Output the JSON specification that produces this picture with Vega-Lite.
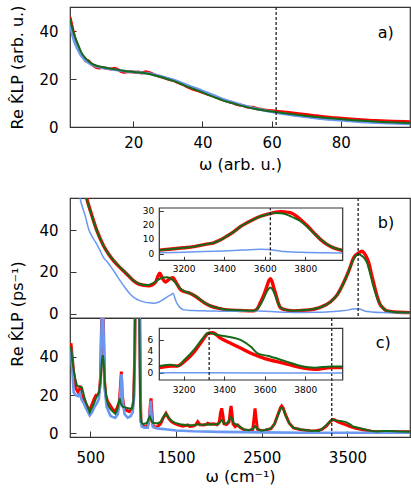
{
"$schema":"https://vega.github.io/schema/vega-lite/v6.json",
"padding":{"left":8,"top":4,"right":0,"bottom":0},
"background":"white",
"config":{"view":{"stroke":"#333","strokeWidth":1.2},"axis":{"labelFont":"DejaVu Sans","titleFont":"DejaVu Sans","labelColor":"#000","titleColor":"#000","tickColor":"#333","tickWidth":1,"domain":false,"grid":false,"titleFontWeight":"normal","labelFlush":false,"labelOverlap":false},"text":{"font":"DejaVu Sans"}},
"datasets":{
"aR":[{"x":1.7,"y":45.8},{"x":2.3,"y":42},{"x":3,"y":37.5},{"x":4,"y":33},{"x":4.9,"y":30.2},{"x":5.8,"y":28.5},{"x":6.5,"y":27.3},{"x":7,"y":27.6},{"x":7.6,"y":26.6},{"x":8.5,"y":25.6},{"x":9.3,"y":24.8},{"x":10,"y":24.6},{"x":11,"y":24.8},{"x":12,"y":24.5},{"x":13.6,"y":24.2},{"x":14.6,"y":24.5},{"x":15.3,"y":24.1},{"x":16.2,"y":23.4},{"x":17.2,"y":22.8},{"x":18.3,"y":23.0},{"x":19.5,"y":23.0},{"x":20.5,"y":22.8},{"x":21.5,"y":22.9},{"x":22.5,"y":22.5},{"x":23.6,"y":23.0},{"x":24.5,"y":22.7},{"x":26,"y":21.8},{"x":28,"y":20.9},{"x":30,"y":20.0},{"x":31.5,"y":19.4},{"x":33,"y":18.5},{"x":34.5,"y":17.6},{"x":36,"y":16.5},{"x":37.5,"y":15.6},{"x":39,"y":15.0},{"x":40.5,"y":14.2},{"x":42,"y":13.4},{"x":43.5,"y":12.7},{"x":45,"y":11.8},{"x":47,"y":10.8},{"x":48.5,"y":10.2},{"x":50,"y":9.4},{"x":51.5,"y":9.0},{"x":53,"y":8.3},{"x":54.5,"y":8.2},{"x":56,"y":7.6},{"x":58,"y":7.1},{"x":61.3,"y":6.6},{"x":65,"y":6.0},{"x":68.5,"y":5.4},{"x":72,"y":4.8},{"x":75,"y":4.3},{"x":78,"y":3.9},{"x":82,"y":3.4},{"x":86,"y":3.0},{"x":90,"y":2.7},{"x":95,"y":2.4},{"x":100,"y":2.2}],
"aB":[{"x":1.7,"y":43},{"x":2.3,"y":39},{"x":3,"y":35.5},{"x":4,"y":32.3},{"x":4.9,"y":29.9},{"x":5.8,"y":28.3},{"x":6.8,"y":27},{"x":8,"y":26},{"x":9.7,"y":25.1},{"x":11.5,"y":24.6},{"x":13.6,"y":24.1},{"x":16,"y":23.6},{"x":18,"y":23.2},{"x":20.3,"y":22.9},{"x":22,"y":22.7},{"x":24.2,"y":22.3},{"x":26,"y":21.8},{"x":28,"y":21.1},{"x":30,"y":20.3},{"x":32,"y":19.4},{"x":34,"y":18.3},{"x":35.8,"y":17.3},{"x":38,"y":16.1},{"x":40,"y":15.0},{"x":41.5,"y":14.1},{"x":44,"y":12.7},{"x":46,"y":11.5},{"x":49.2,"y":10.1},{"x":52,"y":8.9},{"x":55,"y":7.8},{"x":58,"y":6.9},{"x":61.3,"y":6.0},{"x":65,"y":5.2},{"x":68.5,"y":4.5},{"x":72,"y":3.9},{"x":75,"y":3.4},{"x":78.2,"y":3.0},{"x":82,"y":2.6},{"x":85,"y":2.3},{"x":87.8,"y":2.0},{"x":92,"y":1.7},{"x":96,"y":1.5},{"x":100,"y":1.3}],
"aG":[{"x":1.7,"y":45.1},{"x":2.3,"y":41.5},{"x":3,"y":38.2},{"x":4,"y":34.5},{"x":4.9,"y":31.3},{"x":5.8,"y":29.3},{"x":6.8,"y":27.8},{"x":8,"y":26.4},{"x":9.7,"y":25.4},{"x":11.5,"y":24.8},{"x":13.6,"y":24.3},{"x":16,"y":23.7},{"x":18,"y":23.2},{"x":20.3,"y":22.9},{"x":22,"y":22.7},{"x":24.2,"y":22.2},{"x":26,"y":21.6},{"x":28,"y":20.8},{"x":30,"y":19.9},{"x":32,"y":19.0},{"x":34,"y":17.8},{"x":35.8,"y":16.7},{"x":38,"y":15.5},{"x":40,"y":14.4},{"x":41.5,"y":13.5},{"x":44,"y":12.1},{"x":46,"y":11.0},{"x":49.2,"y":9.7},{"x":52,"y":8.6},{"x":55,"y":7.6},{"x":58,"y":6.9},{"x":61.3,"y":6.25},{"x":65,"y":5.5},{"x":68.5,"y":4.9},{"x":72,"y":4.3},{"x":75,"y":3.9},{"x":78.2,"y":3.5},{"x":82,"y":3.0},{"x":85,"y":2.7},{"x":87.8,"y":2.5},{"x":92,"y":2.1},{"x":96,"y":1.9},{"x":100,"y":1.7}],
"bR":[{"x":263,"y":90},{"x":350,"y":75},{"x":420,"y":62},{"x":461,"y":54.9},{"x":520,"y":46.9},{"x":578,"y":39.7},{"x":656,"y":32.5},{"x":715,"y":28.5},{"x":773,"y":25.3},{"x":830,"y":22.8},{"x":889,"y":20.5},{"x":950,"y":18},{"x":1006,"y":15.7},{"x":1060,"y":14.3},{"x":1123,"y":13.6},{"x":1180,"y":13.4},{"x":1220,"y":13.8},{"x":1260,"y":15},{"x":1290,"y":18},{"x":1310,"y":19.4},{"x":1335,"y":17.5},{"x":1375,"y":15.2},{"x":1420,"y":16.5},{"x":1465,"y":17.3},{"x":1500,"y":15},{"x":1550,"y":11.7},{"x":1600,"y":10.5},{"x":1650,"y":10},{"x":1686,"y":9.3},{"x":1730,"y":8.2},{"x":1784,"y":6.6},{"x":1840,"y":5},{"x":1900,"y":3.7},{"x":2000,"y":2.5},{"x":2095,"y":1.8},{"x":2250,"y":1.5},{"x":2406,"y":1.3},{"x":2450,"y":2.5},{"x":2484,"y":5.3},{"x":2530,"y":9.5},{"x":2562,"y":13.3},{"x":2585,"y":16.0},{"x":2600,"y":16.8},{"x":2620,"y":15.5},{"x":2640,"y":12.5},{"x":2659,"y":10},{"x":2690,"y":5.5},{"x":2717,"y":2.9},{"x":2780,"y":1.8},{"x":2873,"y":1.3},{"x":3000,"y":1.6},{"x":3107,"y":2.1},{"x":3200,"y":3.3},{"x":3300,"y":5.6},{"x":3380,"y":9},{"x":3457,"y":14.9},{"x":3520,"y":21},{"x":3574,"y":26.9},{"x":3620,"y":28.8},{"x":3650,"y":29.6},{"x":3670,"y":30},{"x":3700,"y":28.8},{"x":3730,"y":26.5},{"x":3748,"y":24.5},{"x":3780,"y":19},{"x":3810,"y":14},{"x":3845,"y":8.5},{"x":3880,"y":4.5},{"x":3920,"y":2.5},{"x":3962,"y":1.3},{"x":4050,"y":0.8},{"x":4230,"y":0.5}],
"bB":[{"x":263,"y":90},{"x":340,"y":65},{"x":383,"y":54.9},{"x":441,"y":46.9},{"x":481,"y":40.5},{"x":540,"y":35.7},{"x":580,"y":33},{"x":617,"y":30},{"x":660,"y":26.5},{"x":700,"y":24.8},{"x":733,"y":22.9},{"x":790,"y":19.5},{"x":850,"y":15.7},{"x":910,"y":12.2},{"x":967,"y":9.3},{"x":1020,"y":7.4},{"x":1083,"y":6.1},{"x":1150,"y":5.4},{"x":1200,"y":5.2},{"x":1240,"y":5},{"x":1300,"y":5.6},{"x":1356,"y":6.9},{"x":1410,"y":8.4},{"x":1440,"y":9},{"x":1465,"y":9.8},{"x":1490,"y":7},{"x":1510,"y":5},{"x":1531,"y":3.7},{"x":1560,"y":2.5},{"x":1590,"y":1.8},{"x":1700,"y":1.5},{"x":1850,"y":1.3},{"x":1980,"y":1.2},{"x":2200,"y":1.1},{"x":2400,"y":1.2},{"x":2484,"y":1.3},{"x":2550,"y":1.1},{"x":2650,"y":0.9},{"x":2800,"y":0.6},{"x":2950,"y":0.5},{"x":3100,"y":0.6},{"x":3250,"y":0.8},{"x":3417,"y":1.3},{"x":3520,"y":1.8},{"x":3592,"y":2.4},{"x":3640,"y":2.2},{"x":3700,"y":1.3},{"x":3780,"y":0.8},{"x":3900,"y":0.5},{"x":4230,"y":0.3}],
"bG":[{"x":263,"y":88},{"x":350,"y":74},{"x":420,"y":61},{"x":461,"y":54.5},{"x":520,"y":46.6},{"x":578,"y":39.5},{"x":656,"y":32.4},{"x":715,"y":28.5},{"x":773,"y":25.4},{"x":830,"y":22.9},{"x":889,"y":20.6},{"x":950,"y":18},{"x":1006,"y":15.8},{"x":1060,"y":14.5},{"x":1123,"y":13.8},{"x":1180,"y":13.8},{"x":1240,"y":14.8},{"x":1300,"y":16.5},{"x":1350,"y":17.3},{"x":1400,"y":17.5},{"x":1450,"y":16.5},{"x":1500,"y":14.5},{"x":1550,"y":12},{"x":1600,"y":10.7},{"x":1650,"y":10},{"x":1700,"y":9},{"x":1750,"y":7.8},{"x":1800,"y":6.2},{"x":1850,"y":4.8},{"x":1900,"y":3.8},{"x":2000,"y":2.6},{"x":2095,"y":1.9},{"x":2250,"y":1.6},{"x":2406,"y":1.4},{"x":2450,"y":2.3},{"x":2490,"y":4.6},{"x":2530,"y":8},{"x":2565,"y":11},{"x":2600,"y":12.5},{"x":2630,"y":11.3},{"x":2660,"y":8.5},{"x":2690,"y":5},{"x":2720,"y":2.9},{"x":2780,"y":1.8},{"x":2873,"y":1.4},{"x":3000,"y":1.7},{"x":3107,"y":2.2},{"x":3200,"y":3.3},{"x":3300,"y":5.6},{"x":3380,"y":9},{"x":3457,"y":14.9},{"x":3520,"y":21},{"x":3574,"y":26.3},{"x":3610,"y":28.2},{"x":3631,"y":28.5},{"x":3660,"y":28},{"x":3700,"y":26.5},{"x":3728,"y":24.5},{"x":3760,"y":20},{"x":3800,"y":13.5},{"x":3845,"y":7.8},{"x":3880,"y":4.5},{"x":3920,"y":2.5},{"x":3962,"y":1.3},{"x":4050,"y":0.8},{"x":4230,"y":0.5}],
"ibR":[{"x":3080,"y":2.4},{"x":3140,"y":3.2},{"x":3200,"y":4.1},{"x":3250,"y":4.9},{"x":3282,"y":5.8},{"x":3320,"y":6.8},{"x":3348,"y":7.6},{"x":3380,"y":9.5},{"x":3414,"y":12.3},{"x":3450,"y":15.6},{"x":3480,"y":18.9},{"x":3515,"y":21.8},{"x":3546,"y":24.1},{"x":3580,"y":26.2},{"x":3611,"y":27.6},{"x":3645,"y":28.8},{"x":3677,"y":29.4},{"x":3700,"y":29.2},{"x":3726,"y":28.7},{"x":3750,"y":27},{"x":3775,"y":24.1},{"x":3810,"y":19.5},{"x":3842,"y":14.7},{"x":3875,"y":10},{"x":3907,"y":6.5},{"x":3940,"y":4},{"x":3985,"y":2.2}],
"ibB":[{"x":3080,"y":0.6},{"x":3200,"y":0.9},{"x":3300,"y":1.4},{"x":3400,"y":1.9},{"x":3500,"y":2.5},{"x":3578,"y":3.0},{"x":3620,"y":2.8},{"x":3660,"y":2.1},{"x":3700,"y":1.4},{"x":3780,"y":0.9},{"x":3880,"y":0.6},{"x":3985,"y":0.5}],
"ibG":[{"x":3080,"y":2.4},{"x":3140,"y":3.2},{"x":3200,"y":4.1},{"x":3250,"y":4.9},{"x":3282,"y":5.8},{"x":3320,"y":6.8},{"x":3348,"y":7.6},{"x":3380,"y":9.5},{"x":3414,"y":12.3},{"x":3450,"y":15.6},{"x":3480,"y":18.9},{"x":3515,"y":21.8},{"x":3546,"y":24},{"x":3580,"y":26.2},{"x":3611,"y":27.5},{"x":3650,"y":28.5},{"x":3680,"y":28.3},{"x":3700,"y":27.8},{"x":3728,"y":26.2},{"x":3750,"y":24.8},{"x":3775,"y":22.9},{"x":3810,"y":18.8},{"x":3842,"y":14.3},{"x":3875,"y":10.0},{"x":3907,"y":6.6},{"x":3940,"y":4.1},{"x":3985,"y":2.3}],
"cR":[{"x":263,"y":45},{"x":275,"y":47.1},{"x":285,"y":42},{"x":294,"y":37.5},{"x":310,"y":30},{"x":333,"y":23.6},{"x":350,"y":22},{"x":365,"y":21},{"x":383,"y":25},{"x":395,"y":20},{"x":411,"y":18.5},{"x":440,"y":16},{"x":465,"y":14},{"x":488,"y":12.2},{"x":510,"y":14},{"x":540,"y":17.5},{"x":566,"y":20},{"x":590,"y":20},{"x":606,"y":22},{"x":620,"y":30},{"x":632,"y":60},{"x":642,"y":90},{"x":652,"y":60},{"x":665,"y":28},{"x":680,"y":20},{"x":703,"y":16.6},{"x":740,"y":14},{"x":780,"y":11.4},{"x":810,"y":13},{"x":838,"y":16.6},{"x":852,"y":25},{"x":862,"y":32.3},{"x":872,"y":20},{"x":896,"y":13},{"x":925,"y":12},{"x":955,"y":11.4},{"x":975,"y":12.5},{"x":990,"y":13},{"x":1005,"y":17},{"x":1018,"y":40},{"x":1030,"y":90},{"x":1045,"y":120},{"x":1060,"y":120},{"x":1075,"y":70},{"x":1085,"y":20},{"x":1091,"y":6.1},{"x":1110,"y":4},{"x":1130,"y":3.5},{"x":1160,"y":3.5},{"x":1185,"y":6},{"x":1200,"y":15},{"x":1208,"y":18.3},{"x":1218,"y":12},{"x":1228,"y":5},{"x":1240,"y":3.5},{"x":1280,"y":3.4},{"x":1320,"y":5},{"x":1350,"y":8},{"x":1383,"y":10.5},{"x":1420,"y":7.5},{"x":1450,"y":6},{"x":1480,"y":5.2},{"x":1530,"y":4.3},{"x":1580,"y":3.8},{"x":1636,"y":4.4},{"x":1660,"y":3.6},{"x":1700,"y":3.8},{"x":1730,"y":4.5},{"x":1753,"y":6.1},{"x":1780,"y":4.5},{"x":1820,"y":4.4},{"x":1850,"y":4.6},{"x":1870,"y":5.3},{"x":1900,"y":4.8},{"x":1940,"y":5},{"x":1980,"y":4.5},{"x":2005,"y":6},{"x":2020,"y":11},{"x":2033,"y":13.1},{"x":2045,"y":10},{"x":2060,"y":5},{"x":2090,"y":4.6},{"x":2120,"y":6},{"x":2133,"y":12},{"x":2142,"y":14.3},{"x":2152,"y":11},{"x":2165,"y":5},{"x":2190,"y":3.5},{"x":2220,"y":4.4},{"x":2250,"y":3},{"x":2297,"y":1.8},{"x":2350,"y":1.5},{"x":2395,"y":2},{"x":2410,"y":8},{"x":2422,"y":13.1},{"x":2434,"y":8},{"x":2450,"y":2.2},{"x":2492,"y":1.3},{"x":2540,"y":1.7},{"x":2608,"y":2.5},{"x":2650,"y":5},{"x":2690,"y":10},{"x":2720,"y":13.5},{"x":2733,"y":14.3},{"x":2750,"y":13.3},{"x":2780,"y":9.5},{"x":2820,"y":5.5},{"x":2870,"y":2.8},{"x":2958,"y":1.9},{"x":3050,"y":1.4},{"x":3080,"y":1.2},{"x":3138,"y":1.4},{"x":3203,"y":2.1},{"x":3253,"y":3.8},{"x":3294,"y":5.9},{"x":3322,"y":7.1},{"x":3343,"y":7.2},{"x":3384,"y":6.2},{"x":3434,"y":5.3},{"x":3483,"y":4.4},{"x":3532,"y":3.6},{"x":3598,"y":2.7},{"x":3697,"y":1.8},{"x":3779,"y":1.1},{"x":3845,"y":0.8},{"x":3927,"y":1.0},{"x":3985,"y":1.0},{"x":4100,"y":0.9},{"x":4230,"y":0.9}],
"cB":[{"x":263,"y":42},{"x":275,"y":43},{"x":290,"y":33},{"x":306,"y":21.5},{"x":330,"y":20},{"x":360,"y":19.5},{"x":380,"y":21},{"x":395,"y":18},{"x":420,"y":16},{"x":450,"y":13},{"x":493,"y":9.3},{"x":520,"y":11},{"x":550,"y":14},{"x":575,"y":15.6},{"x":600,"y":18},{"x":620,"y":28},{"x":632,"y":60},{"x":642,"y":90},{"x":652,"y":60},{"x":665,"y":25},{"x":690,"y":14},{"x":733,"y":9.3},{"x":760,"y":8.5},{"x":792,"y":8.2},{"x":820,"y":10},{"x":840,"y":15},{"x":855,"y":25},{"x":865,"y":31},{"x":875,"y":18},{"x":900,"y":10},{"x":936,"y":8.2},{"x":970,"y":9},{"x":995,"y":11},{"x":1010,"y":20},{"x":1022,"y":60},{"x":1035,"y":110},{"x":1060,"y":120},{"x":1075,"y":60},{"x":1085,"y":10},{"x":1100,"y":3.5},{"x":1130,"y":3},{"x":1170,"y":3},{"x":1190,"y":8},{"x":1205,"y":17},{"x":1215,"y":10},{"x":1228,"y":3.5},{"x":1260,"y":2.8},{"x":1300,"y":2.5},{"x":1400,"y":2},{"x":1500,"y":1.5},{"x":1700,"y":1.1},{"x":2000,"y":0.8},{"x":2500,"y":0.5},{"x":3000,"y":0.35},{"x":3500,"y":0.3},{"x":4230,"y":0.3}],
"cG":[{"x":263,"y":44},{"x":275,"y":45},{"x":290,"y":38},{"x":310,"y":32},{"x":330,"y":27.5},{"x":345,"y":25},{"x":370,"y":24.5},{"x":403,"y":24},{"x":430,"y":19},{"x":460,"y":15},{"x":493,"y":11},{"x":520,"y":13.5},{"x":550,"y":16.5},{"x":570,"y":18.8},{"x":600,"y":21},{"x":620,"y":28},{"x":635,"y":38},{"x":645,"y":41},{"x":655,"y":38},{"x":670,"y":26},{"x":690,"y":18},{"x":710,"y":14.5},{"x":733,"y":12.8},{"x":760,"y":11.5},{"x":792,"y":10.2},{"x":815,"y":12.5},{"x":830,"y":15.5},{"x":843,"y":18.3},{"x":858,"y":15.5},{"x":875,"y":14},{"x":908,"y":13.6},{"x":950,"y":13},{"x":990,"y":13},{"x":1005,"y":18},{"x":1018,"y":45},{"x":1030,"y":90},{"x":1045,"y":120},{"x":1060,"y":110},{"x":1072,"y":60},{"x":1082,"y":15},{"x":1095,"y":6},{"x":1110,"y":5},{"x":1123,"y":4.9},{"x":1160,"y":5.4},{"x":1180,"y":7.5},{"x":1195,"y":8.7},{"x":1210,"y":7},{"x":1230,"y":5.5},{"x":1247,"y":5.4},{"x":1280,"y":5.2},{"x":1320,"y":6},{"x":1350,"y":8.5},{"x":1380,"y":10.5},{"x":1410,"y":8.5},{"x":1450,"y":6.5},{"x":1490,"y":5.5},{"x":1550,"y":4.8},{"x":1636,"y":4.2},{"x":1700,"y":4.2},{"x":1753,"y":4.8},{"x":1800,"y":4.5},{"x":1870,"y":4.8},{"x":1950,"y":4.7},{"x":2000,"y":5},{"x":2033,"y":7},{"x":2060,"y":5},{"x":2100,"y":5.5},{"x":2142,"y":8.7},{"x":2170,"y":5.5},{"x":2220,"y":4.2},{"x":2260,"y":3},{"x":2300,"y":2},{"x":2350,"y":1.6},{"x":2400,"y":2.5},{"x":2422,"y":3.9},{"x":2445,"y":2.5},{"x":2492,"y":1.4},{"x":2540,"y":1.8},{"x":2608,"y":2.6},{"x":2650,"y":5},{"x":2690,"y":9.5},{"x":2720,"y":13},{"x":2733,"y":13.5},{"x":2750,"y":12.8},{"x":2780,"y":9.2},{"x":2820,"y":5.3},{"x":2870,"y":2.9},{"x":2958,"y":2.0},{"x":3050,"y":1.5},{"x":3080,"y":1.3},{"x":3138,"y":1.5},{"x":3171,"y":1.3},{"x":3203,"y":2.4},{"x":3253,"y":4.3},{"x":3294,"y":6.2},{"x":3322,"y":7.2},{"x":3368,"y":6.8},{"x":3434,"y":6.4},{"x":3483,"y":5.9},{"x":3532,"y":4.7},{"x":3565,"y":3.6},{"x":3614,"y":3.1},{"x":3697,"y":2.2},{"x":3779,"y":1.3},{"x":3845,"y":1.0},{"x":3927,"y":1.2},{"x":3985,"y":1.2},{"x":4100,"y":1.0},{"x":4230,"y":0.9}],
"icR":[{"x":3080,"y":1.0},{"x":3138,"y":1.3},{"x":3171,"y":1.3},{"x":3203,"y":2.06},{"x":3253,"y":3.84},{"x":3294,"y":5.9},{"x":3322,"y":7.1},{"x":3343,"y":7.2},{"x":3384,"y":6.2},{"x":3434,"y":5.3},{"x":3483,"y":4.44},{"x":3532,"y":3.55},{"x":3598,"y":2.66},{"x":3697,"y":1.77},{"x":3779,"y":0.99},{"x":3845,"y":0.7},{"x":3927,"y":1.0},{"x":3985,"y":1.0}],
"icB":[{"x":3080,"y":0.1},{"x":3300,"y":0.08},{"x":3600,"y":0.05},{"x":3985,"y":0.05}],
"icG":[{"x":3080,"y":1.3},{"x":3138,"y":1.5},{"x":3171,"y":1.3},{"x":3203,"y":2.36},{"x":3253,"y":4.26},{"x":3294,"y":6.2},{"x":3322,"y":7.2},{"x":3368,"y":6.8},{"x":3434,"y":6.4},{"x":3483,"y":5.9},{"x":3532,"y":4.7},{"x":3565,"y":3.55},{"x":3614,"y":3.1},{"x":3697,"y":2.2},{"x":3779,"y":1.3},{"x":3845,"y":1.0},{"x":3927,"y":1.2},{"x":3985,"y":1.2}],
"ibT":[{"v":0},{"v":10},{"v":20},{"v":30}],
"icT":[{"v":0},{"v":2},{"v":4},{"v":6}]
},
"spacing":71,
"bounds":"flush",
"vconcat":[
{"width":340,"height":120,
 "layer":[
  {"data":{"name":"aR"},"mark":{"type":"line","color":"#ff0000","strokeWidth":3,"interpolate":"monotone","clip":true},
   "encoding":{"x":{"field":"x","type":"quantitative","scale":{"domain":[1.7,100],"nice":false,"zero":false},"axis":{"values":[20,40,60,80],"format":"d","tickSize":-6,"labelPadding":14,"labelFontSize":15,"title":"ω (arb. u.)","titleFontSize":16,"titleY":29}},
    "y":{"field":"y","type":"quantitative","scale":{"domain":[0,50],"nice":false,"zero":false},"axis":{"values":[0,20,40],"format":"d","tickSize":-6,"labelPadding":18,"labelFontSize":15,"title":"Re K̂LP (arb. u.)","titleFontSize":16,"titleX":-48,"titleBaseline":"alphabetic"}}}},
  {"data":{"name":"aB"},"mark":{"type":"line","color":"#6a98f0","strokeWidth":2.8,"interpolate":"monotone","clip":true},
   "encoding":{"x":{"field":"x","type":"quantitative"},"y":{"field":"y","type":"quantitative"}}},
  {"data":{"name":"aG"},"mark":{"type":"line","color":"#17691a","strokeWidth":2,"interpolate":"monotone","clip":true},
   "encoding":{"x":{"field":"x","type":"quantitative"},"y":{"field":"y","type":"quantitative"}}},
  {"data":{"values":[{}]},"mark":{"type":"rule","strokeDash":[3,2],"color":"#222","strokeWidth":1.3},"encoding":{"x":{"datum":61.3}}},
  {"data":{"values":[{}]},"mark":{"type":"text","text":"a)","fontSize":16,"color":"#000"},"encoding":{"x":{"datum":93},"y":{"datum":39}}}
 ]},
{"spacing":0,"bounds":"flush",
 "vconcat":[
  {"width":340,"height":120,
   "resolve":{"scale":{"x":"independent","y":"independent"},"axis":{"x":"independent","y":"independent"}},
   "layer":[
    {"layer":[
      {"data":{"name":"bR"},"mark":{"type":"line","color":"#ff0000","strokeWidth":3.4,"interpolate":"monotone","clip":true},
       "encoding":{"x":{"field":"x","type":"quantitative","scale":{"domain":[263,4230],"nice":false,"zero":false},"axis":null},
        "y":{"field":"y","type":"quantitative","scale":{"domain":[-2.1,55.5],"nice":false,"zero":false},"axis":{"orient":"left","values":[0,20,40],"format":"d","tickSize":-6,"labelPadding":18,"labelFontSize":15,"title":null}}}},
      {"data":{"name":"bB"},"mark":{"type":"line","color":"#6a98f0","strokeWidth":1.5,"interpolate":"monotone","clip":true},
       "encoding":{"x":{"field":"x","type":"quantitative","axis":null},"y":{"field":"y","type":"quantitative"}}},
      {"data":{"name":"bG"},"mark":{"type":"line","color":"#17691a","strokeWidth":2,"interpolate":"monotone","clip":true},
       "encoding":{"x":{"field":"x","type":"quantitative","axis":null},"y":{"field":"y","type":"quantitative"}}},
      {"data":{"values":[{}]},"mark":{"type":"rule","strokeDash":[3,2],"color":"#222","strokeWidth":1.3},"encoding":{"x":{"datum":3625,"axis":null}}},
      {"data":{"values":[{}]},"mark":{"type":"text","text":"b)","fontSize":16,"color":"#000"},"encoding":{"x":{"datum":3950,"axis":null},"y":{"datum":43.3}}}
    ]},
    {"layer":[
      {"data":{"name":"ibR"},"mark":{"type":"line","color":"#ff0000","strokeWidth":3.4,"interpolate":"monotone","clip":true},
       "encoding":{"x":{"field":"x","type":"quantitative","scale":{"domain":[3080,3985],"range":[89.3,272.7],"nice":false,"zero":false},"axis":{"orient":"bottom","offset":-57.7,"values":[3200,3400,3600,3800],"format":"d","tickSize":-4,"labelPadding":8.5,"labelFontSize":9,"title":null}},
        "y":{"field":"y","type":"quantitative","scale":{"domain":[-4.7,32],"range":[62.3,10],"nice":false,"zero":false},"axis":{"orient":"left","offset":-89.3,"values":[0,10,20,30],"tickSize":-4,"labels":false,"title":null}}}},
      {"data":{"name":"ibB"},"mark":{"type":"line","color":"#6a98f0","strokeWidth":1.5,"interpolate":"monotone","clip":true},
       "encoding":{"x":{"field":"x","type":"quantitative"},"y":{"field":"y","type":"quantitative"}}},
      {"data":{"name":"ibG"},"mark":{"type":"line","color":"#17691a","strokeWidth":2,"interpolate":"monotone","clip":true},
       "encoding":{"x":{"field":"x","type":"quantitative"},"y":{"field":"y","type":"quantitative"}}},
      {"data":{"values":[{}]},"mark":{"type":"rule","strokeDash":[3,2],"color":"#222","strokeWidth":1.3},"encoding":{"x":{"datum":3628},"y":{"datum":-4.7},"y2":{"datum":32}}},
      {"data":{"values":[{}]},"mark":{"type":"rect","filled":false,"color":"#333","strokeWidth":1.2},"encoding":{"x":{"datum":3080},"x2":{"datum":3985},"y":{"datum":-4.7},"y2":{"datum":32}}},
      {"data":{"name":"ibT"},"mark":{"type":"text","align":"right","baseline":"middle","dx":-5,"fontSize":9,"color":"#000"},"encoding":{"x":{"datum":3080},"y":{"field":"v","type":"quantitative"},"text":{"field":"v","type":"quantitative","format":"d"}}}
    ]}
   ]},
  {"width":340,"height":119,
   "resolve":{"scale":{"x":"independent","y":"independent"},"axis":{"x":"independent","y":"independent"}},
   "layer":[
    {"layer":[
      {"data":{"name":"cR"},"mark":{"type":"line","color":"#ff0000","strokeWidth":3,"clip":true},
       "encoding":{"x":{"field":"x","type":"quantitative","scale":{"domain":[263,4230],"nice":false,"zero":false},"axis":{"orient":"bottom","values":[500,1500,2500,3500],"format":"d","tickSize":-6,"labelPadding":19,"labelFontSize":15,"title":"ω (cm⁻¹)","titleFontSize":16,"titleY":31}},
        "y":{"field":"y","type":"quantitative","scale":{"domain":[-1.9,60.4],"nice":false,"zero":false},"axis":{"orient":"left","values":[0,20,40],"format":"d","tickSize":-6,"labelPadding":18,"labelFontSize":15,"title":"Re K̂LP (ps⁻¹)","titleFontSize":16,"titleX":-48,"titleY":-4.5,"titleBaseline":"alphabetic"}}}},
      {"data":{"name":"cB"},"mark":{"type":"line","color":"#6a98f0","strokeWidth":2.6,"clip":true},
       "encoding":{"x":{"field":"x","type":"quantitative"},"y":{"field":"y","type":"quantitative"}}},
      {"data":{"name":"cG"},"mark":{"type":"line","color":"#17691a","strokeWidth":2,"clip":true},
       "encoding":{"x":{"field":"x","type":"quantitative"},"y":{"field":"y","type":"quantitative"}}},
      {"data":{"values":[{}]},"mark":{"type":"rule","strokeDash":[3,2],"color":"#222","strokeWidth":1.3},"encoding":{"x":{"datum":3317}}},
      {"data":{"values":[{}]},"mark":{"type":"text","text":"c)","fontSize":16,"color":"#000"},"encoding":{"x":{"datum":3918},"y":{"datum":47.2}}}
    ]},
    {"layer":[
      {"data":{"name":"icR"},"mark":{"type":"line","color":"#ff0000","strokeWidth":3.4,"interpolate":"monotone","clip":true},
       "encoding":{"x":{"field":"x","type":"quantitative","scale":{"domain":[3080,3985],"range":[89.3,272.7],"nice":false,"zero":false},"axis":{"orient":"bottom","offset":-57,"values":[3200,3400,3600,3800],"format":"d","tickSize":-4,"labelPadding":9.8,"labelFontSize":9,"title":null}},
        "y":{"field":"y","type":"quantitative","scale":{"domain":[-1.2,8],"range":[62,10.3],"nice":false,"zero":false},"axis":{"orient":"left","offset":-89.3,"values":[0,2,4,6],"tickSize":-4,"labels":false,"title":null}}}},
      {"data":{"name":"icB"},"mark":{"type":"line","color":"#6a98f0","strokeWidth":1.5,"interpolate":"monotone","clip":true},
       "encoding":{"x":{"field":"x","type":"quantitative"},"y":{"field":"y","type":"quantitative"}}},
      {"data":{"name":"icG"},"mark":{"type":"line","color":"#17691a","strokeWidth":2,"interpolate":"monotone","clip":true},
       "encoding":{"x":{"field":"x","type":"quantitative"},"y":{"field":"y","type":"quantitative"}}},
      {"data":{"values":[{}]},"mark":{"type":"rule","strokeDash":[3,2],"color":"#222","strokeWidth":1.3},"encoding":{"x":{"datum":3326},"y":{"datum":-1.2},"y2":{"datum":8}}},
      {"data":{"values":[{}]},"mark":{"type":"rect","filled":false,"color":"#333","strokeWidth":1.2},"encoding":{"x":{"datum":3080},"x2":{"datum":3985},"y":{"datum":-1.2},"y2":{"datum":8}}},
      {"data":{"name":"icT"},"mark":{"type":"text","align":"right","baseline":"middle","dx":-6,"fontSize":9,"color":"#000"},"encoding":{"x":{"datum":3080},"y":{"field":"v","type":"quantitative"},"text":{"field":"v","type":"quantitative","format":"d"}}}
    ]}
   ]}
 ]}
]
}
